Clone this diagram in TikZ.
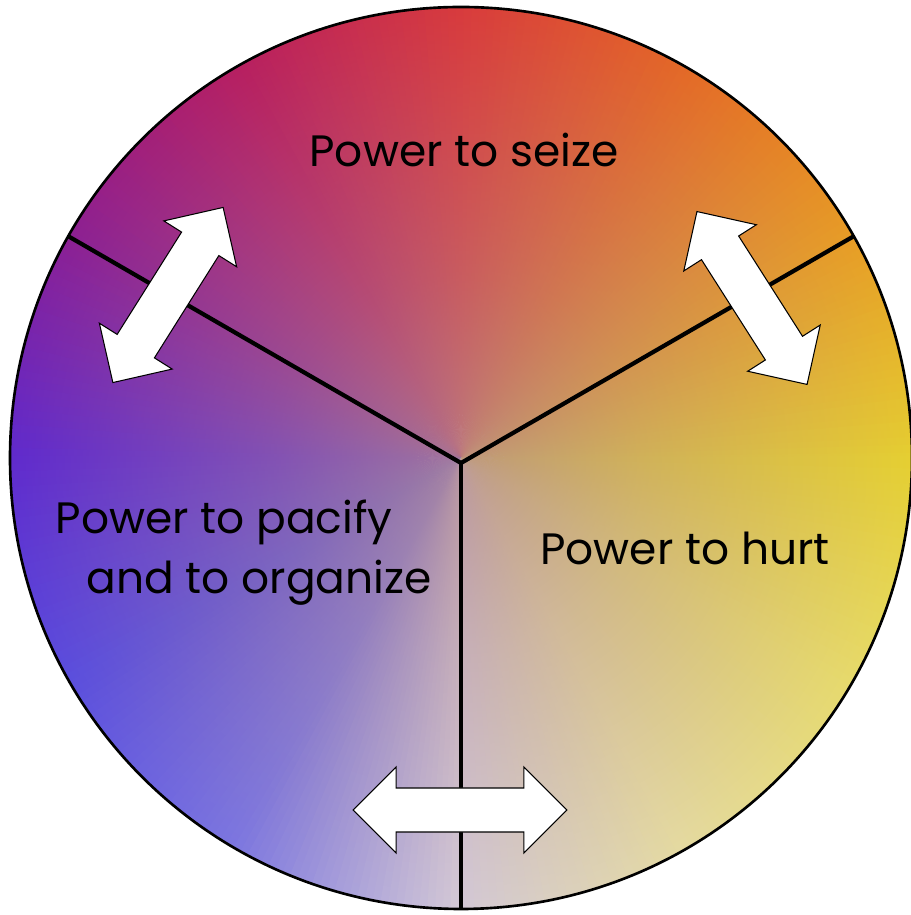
\documentclass[tikz,border=0pt]{standalone}
\usepackage{fontspec}
\newfontfamily\powerfont{Poppins}
\usepackage{tikz}
\usetikzlibrary{shapes.arrows,fadings}
% rim colours, every 30 degrees starting east
\definecolor{wc0}{HTML}{F0DE1E}
\definecolor{wc1}{HTML}{F2A010}
\definecolor{wc2}{HTML}{EE6412}
\definecolor{wc3}{HTML}{E02C2C}
\definecolor{wc4}{HTML}{B80A58}
\definecolor{wc5}{HTML}{860A92}
\definecolor{wc6}{HTML}{4E16DA}
\definecolor{wc7}{HTML}{4842EE}
\definecolor{wc8}{HTML}{7072F2}
\definecolor{wc9}{HTML}{DAD6E6}
\definecolor{wc10}{HTML}{F0ECA4}
\definecolor{wc11}{HTML}{F2EC66}
\definecolor{hubcol}{HTML}{B48A90}
\pgfdeclareradialshading{hubshade}{\pgfpointorigin}{color(0bp)=(white!82!black); color(10bp)=(white!52!black); color(25bp)=(white!16!black); color(40bp)=(white!2!black); color(50bp)=(black)}
\pgfdeclarefading{hubfade}{\pgfuseshading{hubshade}}

\begin{document}
\begin{tikzpicture}[x=0.02cm,y=0.02cm,
    twoway/.style={double arrow,draw=black,line width=0.6pt,fill=white,inner xsep=0pt,inner ysep=0.43cm,
      minimum height=#1,double arrow head extend=0.42cm},
    powertext/.style={font=\powerfont\fontsize{25}{30}\selectfont,anchor=base}]
    \useasboundingbox (0,0) rectangle (911,915);
    \coordinate (c) at (461,457);
    \coordinate (hub) at (461,452);

    % colour wheel
    \begin{scope}
        \clip (c) circle (451);
        \foreach \a in {0,1,...,359}{
            \pgfmathtruncatemacro\k{\a/30}
            \pgfmathtruncatemacro\kk{mod(\k+1,12)}
            \pgfmathtruncatemacro\p{100-(\a+0.5-30*\k)*10/3}
            \colorlet{wheelcol}{wc\k!\p!wc\kk}
            \fill[wheelcol] (c) -- +(\a-0.3:480) -- +(\a+1.3:480) -- cycle;
        }
        \fill[hubcol,path fading=hubfade] (hub) circle (460);

        % dividing lines
        \path (hub) ++(150:500) coordinate (westend);
        \path (hub) ++(30:500) coordinate (eastend);
        \path (hub) ++(270:500) coordinate (southend);
        \draw[line width=2.4pt] (hub) -- (westend);
        \draw[line width=2.4pt] (hub) -- (eastend);
        \draw[line width=2.4pt] (hub) -- (southend);
    \end{scope}
    \draw[line width=1.5pt] (c) circle (451);

    % arrows across the borders
    \node[twoway=4.14cm,rotate=57.8] (arrowwest) at (168,620) {};
    \node[twoway=4.1cm,rotate=-57.5] (arroweast) at (752,617) {};
    \node[twoway=4.28cm] (arrowsouth) at (460,105) {};

    % labels
    \node[powertext] (seize) at (464,748) {Power to seize};
    \node[powertext] (pacify) at (224,381) {Power to pacify};
    \node[powertext] (organize) at (259,321) {and to organize};
    \node[powertext] (hurt) at (685,350) {Power to hurt};
\end{tikzpicture}
\end{document}
